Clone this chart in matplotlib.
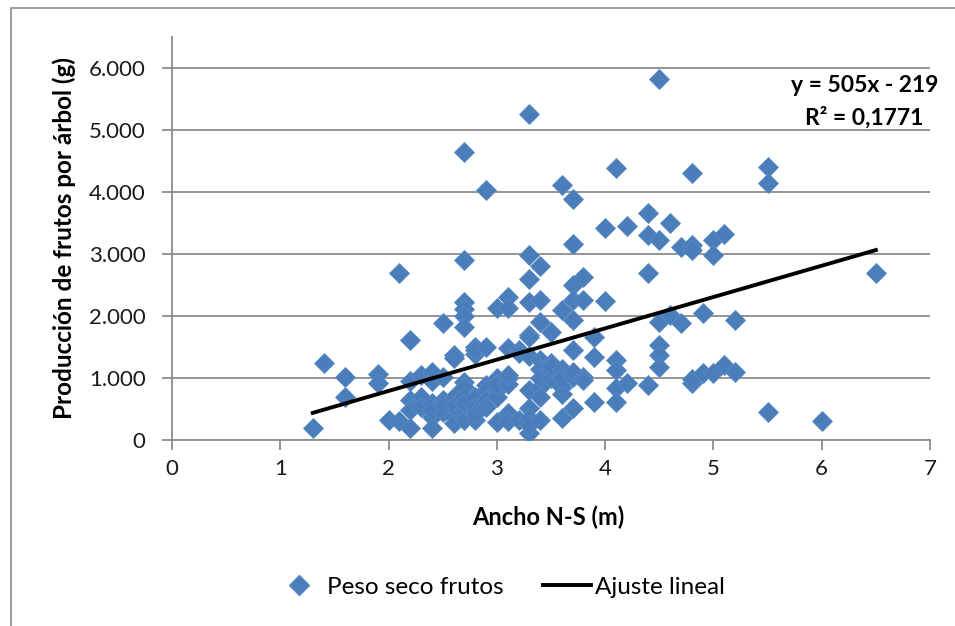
import matplotlib
matplotlib.use("Agg")
import matplotlib.pyplot as plt
from matplotlib.patches import Rectangle
from matplotlib.lines import Line2D
from matplotlib.ticker import FuncFormatter, MultipleLocator

plt.rcParams['font.family'] = ['Lato', 'DejaVu Sans']

# Ancho N-S (m) and peso seco de frutos (g)
ancho = [1.3, 1.4, 1.6, 1.6, 1.9, 1.9, 2.0, 2.1, 2.1, 2.2, 2.2, 2.2, 2.2, 2.2,
         2.3, 2.3, 2.3, 2.4, 2.4, 2.4, 2.4, 2.4, 2.4, 2.5, 2.5, 2.5, 2.5, 2.5,
         2.6, 2.6, 2.6, 2.6, 2.6, 2.6, 2.7, 2.7, 2.7, 2.7, 2.7, 2.7, 2.7, 2.7,
         2.7, 2.7, 2.7, 2.7, 2.8, 2.8, 2.8, 2.8, 2.8, 2.8, 2.8, 2.9, 2.9, 2.9,
         2.9, 2.9, 2.9, 3.0, 3.0, 3.0, 3.0, 3.0, 3.0, 3.0, 3.1, 3.1, 3.1, 3.1,
         3.1, 3.1, 3.1, 3.1, 3.2, 3.2, 3.2, 3.3, 3.3, 3.3, 3.3, 3.3, 3.3, 3.3,
         3.3, 3.3, 3.3, 3.3, 3.3, 3.4, 3.4, 3.4, 3.4, 3.4, 3.4, 3.4, 3.4, 3.4,
         3.5, 3.5, 3.5, 3.5, 3.5, 3.6, 3.6, 3.6, 3.6, 3.6, 3.6, 3.6, 3.7, 3.7,
         3.7, 3.7, 3.7, 3.7, 3.7, 3.7, 3.7, 3.8, 3.8, 3.8, 3.8, 3.9, 3.9, 3.9,
         4.0, 4.0, 4.1, 4.1, 4.1, 4.1, 4.1, 4.2, 4.2, 4.4, 4.4, 4.4, 4.4, 4.5,
         4.5, 4.5, 4.5, 4.5, 4.5, 4.6, 4.6, 4.7, 4.7, 4.8, 4.8, 4.8, 4.8, 4.8,
         4.9, 4.9, 5.0, 5.0, 5.0, 5.1, 5.1, 5.2, 5.2, 5.5, 5.5, 5.5, 6.0, 6.5]
peso = [190, 1250, 1020, 690, 1060, 920, 330, 2700, 300, 1620, 950, 650, 480, 200,
        1050, 700, 530, 1100, 950, 600, 370, 200, 480, 1020, 1880, 650, 450, 580,
        1370, 1320, 700, 370, 270, 550, 4650, 2900, 2230, 2120, 2000, 1820, 940, 850,
        700, 480, 320, 600, 1500, 1380, 1450, 700, 530, 320, 420, 4030, 1500, 880,
        800, 650, 530, 2130, 940, 1000, 800, 700, 290, 900, 2310, 2130, 1480, 1000,
        900, 430, 300, 1050, 1450, 320, 1400, 5260, 2980, 2600, 2230, 1700, 1660, 1350,
        800, 510, 350, 110, 250, 2800, 2260, 1900, 1290, 1150, 850, 700, 320, 1000,
        1740, 1240, 1100, 1000, 1200, 4110, 2100, 1150, 860, 750, 350, 1000, 3890, 3160,
        2500, 2260, 1930, 1450, 1020, 510, 1100, 2630, 2260, 1020, 970, 1660, 1340, 610,
        3420, 2240, 4390, 1290, 1130, 840, 610, 3450, 920, 3660, 3310, 2690, 890, 5820,
        3230, 1900, 1530, 1370, 1180, 3500, 2020, 3110, 1880, 4300, 3150, 3060, 920, 990,
        2050, 1080, 3230, 2980, 1080, 3320, 1210, 1930, 1100, 4400, 4150, 450, 310, 2690]

# linear fit shown on the chart
pendiente = 505
intercepto = -219
r2_text = "0,1771"

blue = '#4A7EBB'
grid_gray = '#8C8C8C'

fig = plt.figure(figsize=(9.55, 6.26), dpi=100)
ax = fig.add_axes([172 / 955, 1 - 440 / 626, (930 - 172) / 955, (440 - 37) / 626])

ax.plot(ancho, peso, linestyle='none', marker='D', markersize=10,
        color=blue, markeredgecolor='#5A8AC4', markeredgewidth=0.6, zorder=3)

x_fit = [min(ancho), max(ancho)]
y_fit = [pendiente * v + intercepto for v in x_fit]
ax.plot(x_fit, y_fit, color='black', linewidth=2.8, zorder=4)

ax.set_xlim(0, 7)
ax.set_ylim(0, 6500)
ax.xaxis.set_major_locator(MultipleLocator(1))
ax.set_yticks(range(0, 7000, 1000))
ax.yaxis.set_major_formatter(FuncFormatter(lambda v, p: f"{v:,.0f}".replace(",", ".")))
ax.grid(axis='y', color=grid_gray, linewidth=1.3)
ax.set_axisbelow(True)

for s in ['top', 'right']:
    ax.spines[s].set_visible(False)
for s in ['left', 'bottom']:
    ax.spines[s].set_color(grid_gray)
    ax.spines[s].set_linewidth(1.3)
ax.tick_params(axis='both', direction='out', length=7, width=1.3, color=grid_gray,
               labelsize=16, labelcolor='#1a1a1a')
ax.tick_params(axis='y', pad=12)
ax.tick_params(axis='x', pad=7)

fig.text(64 / 955, 1 - 238 / 626, "Producción de frutos por árbol (g)", rotation=90,
         ha='center', va='center', fontsize=17.5, fontweight='bold')
fig.text(548 / 955, 1 - 517 / 626, "Ancho N-S (m)", ha='center', va='center',
         fontsize=17, fontweight='bold')

fig.text(938 / 955, 1 - 85 / 626, f"y = {pendiente}x - {abs(intercepto)}", ha='right',
         va='center', fontsize=16.5, fontweight='bold')
fig.text(923 / 955, 1 - 118 / 626, f"R² = {r2_text}", ha='right', va='center',
         fontsize=16.5, fontweight='bold')

handles = [Line2D([], [], linestyle='none', marker='D', markersize=10, color=blue,
                  markeredgecolor='#5A8AC4'),
           Line2D([], [], color='black', linewidth=2.8)]
fig.legend(handles, ["Peso seco frutos", "Ajuste lineal"], loc='center',
           bbox_to_anchor=(500 / 955, 1 - 587 / 626), ncol=2, frameon=False,
           fontsize=17.5, handlelength=2.0, handletextpad=0.15, columnspacing=1.6)

# outer chart border
fig.patches.append(Rectangle((11 / 955, -0.1), 1.2, 1.1 - 8 / 626, transform=fig.transFigure,
                             fill=False, edgecolor='#8C8C8C', linewidth=1.2))

fig.savefig("out.png", dpi=100)
